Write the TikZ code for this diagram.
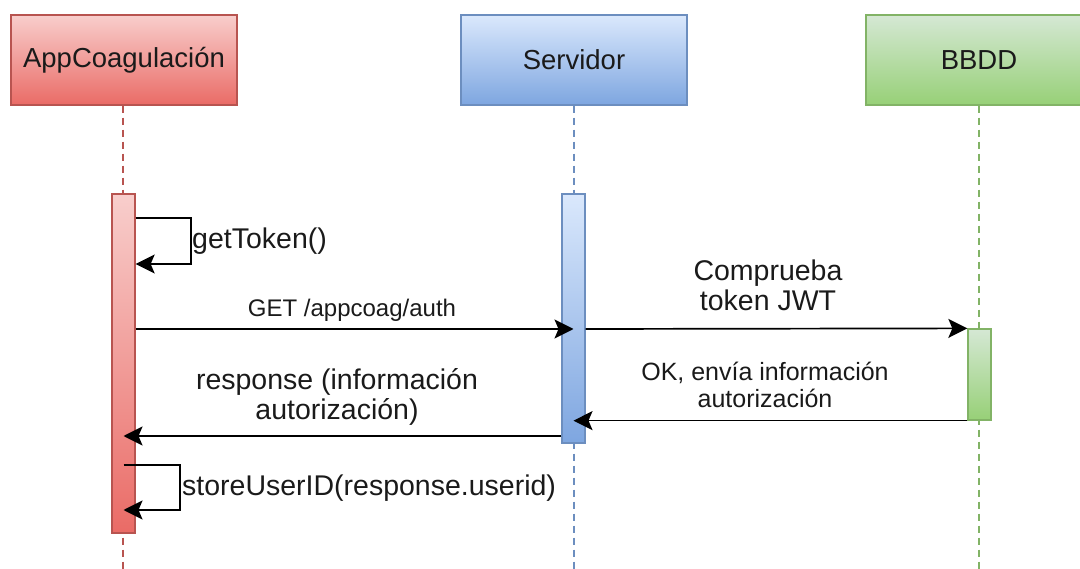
\documentclass[tikz,border=0pt]{standalone}
\usepackage{fontspec}
\setmainfont{Liberation Sans}
\usetikzlibrary{arrows.meta,calc}

\definecolor{redfillA}{HTML}{F8CECC}
\definecolor{redfillB}{HTML}{EA6B66}
\definecolor{redline}{HTML}{B85450}
\definecolor{bluefillA}{HTML}{DAE8FC}
\definecolor{bluefillB}{HTML}{7EA6E0}
\definecolor{blueline}{HTML}{6C8EBF}
\definecolor{greenfillA}{HTML}{D5E8D4}
\definecolor{greenfillB}{HTML}{97D077}
\definecolor{greenline}{HTML}{82B366}
\definecolor{txt}{HTML}{1A1A1A}

\tikzset{
  headtext/.style={font=\fontsize{27.5}{30}\selectfont, text=txt},
  bigtext/.style={font=\fontsize{28.5}{30}\selectfont, text=txt},
  smalltext/.style={font=\fontsize{24}{27}\selectfont, text=txt},
  header/.style={draw, line width=1.3pt, minimum width=226pt, minimum height=90pt,
                 inner sep=0pt, headtext},
  actbar/.style={draw, line width=1.3pt, minimum width=23pt, inner sep=0pt},
  redstyle/.style={draw=redline, top color=redfillA, bottom color=redfillB},
  bluestyle/.style={draw=blueline, top color=bluefillA, bottom color=bluefillB},
  greenstyle/.style={draw=greenline, top color=greenfillA, bottom color=greenfillB},
  lifeline/.style={line width=1.3pt, dash pattern=on 7pt off 5pt},
  msg/.style={line width=1.7pt, black,
              -{Stealth[length=19pt,width=19pt,inset=4pt]}},
}

\begin{document}
\begin{tikzpicture}[x=1pt,y=1pt]
  \useasboundingbox (0,0) rectangle (1080,-569);

  % participants
  \node[header, redstyle]   (app) at (124,-60) {AppCoagulación};
  \node[header, bluestyle]  (srv) at (574,-60) {Servidor};
  \node[header, greenstyle] (db)  at (979,-60) {BBDD};

  % lifeline ends
  \coordinate (append) at (123,-569);
  \coordinate (srvend) at (574,-569);
  \coordinate (dbend)  at (979,-569);

  \draw[lifeline, redline]   (app.south -| append) -- (append);
  \draw[lifeline, blueline]  (srv.south) -- (srvend);
  \draw[lifeline, greenline] (db.south)  -- (dbend);

  % activation bars
  \node[actbar, redstyle, minimum height=339pt]  (appact) at (123.5,-363.5) {};
  \node[actbar, bluestyle, minimum height=249pt] (srvact) at (573.5,-318.5) {};
  \node[actbar, greenstyle, minimum height=91pt] (dbact)  at (979.5,-374.5) {};

  % message levels
  \coordinate (ytok1)  at (0,-218);
  \coordinate (ytok2)  at (0,-264);
  \coordinate (xtok)   at (191,0);
  \coordinate (yget)   at (0,-329);
  \coordinate (yresp)  at (0,-436);
  \coordinate (ystore1) at (0,-465);
  \coordinate (ystore2) at (0,-510);
  \coordinate (xstore)  at (180,0);

  % getToken() self call
  \draw[msg] (appact.east |- ytok1) -- (xtok |- ytok1) -- (xtok |- ytok2)
             -- (appact.east |- ytok2);
  \node[bigtext, anchor=west, inner sep=0pt] (ltok) at (192,-241) {getToken()};

  % GET /appcoag/auth
  \draw[msg] (appact.east |- yget) -- (srvact.center |- yget);
  \node[smalltext] (lget) at (352,-310) {GET /appcoag/auth};

  % Comprueba token JWT
  \draw[msg] (srvact.east |- yget) -- (dbact.north west);
  \node[bigtext, align=center] (lchk) at (768,-285) {Comprueba\\token JWT};

  % OK answer from BBDD
  \draw[msg] (dbact.south west) -- (srvact.center |- dbact.south west);
  \node[smalltext, font=\fontsize{25}{27}\selectfont, align=center] (lok) at (765,-385) {OK, envía información\\autorización};

  % response to the app
  \draw[msg] (srvact.west |- yresp) -- (appact.center |- yresp);
  \node[bigtext, align=center] (lresp) at (337,-397) {response (información\\autorización)};

  % storeUserID self call
  \draw[msg] (appact.center |- ystore1) -- (xstore |- ystore1) -- (xstore |- ystore2)
             -- (appact.center |- ystore2);
  \node[bigtext, anchor=west, inner sep=0pt] (lstore) at (182,-488) {storeUserID(response.userid)};
\end{tikzpicture}
\end{document}
